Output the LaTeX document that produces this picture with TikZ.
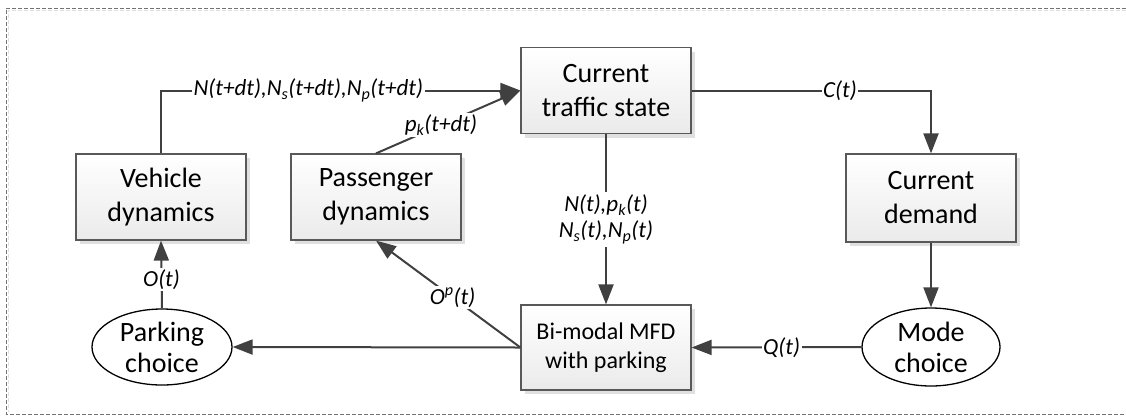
\documentclass[tikz,border=0pt]{standalone}
\usepackage{fontspec}
\setmainfont{Carlito}
\usetikzlibrary{arrows.meta,shapes.geometric,shadows}
\definecolor{linec}{HTML}{404040}
\definecolor{boxedge}{HTML}{595959}
\begin{document}
\begin{tikzpicture}[x=1pt,y=-1pt,
  blk/.style={draw=boxedge, line width=1.2pt, rectangle, minimum width=170pt, minimum height=86pt,
    top color=white, bottom color=black!8,
    drop shadow={shadow xshift=4pt, shadow yshift=-4pt, fill=black!12, opacity=1},
    align=center, font=\fontsize{28}{34}\selectfont, inner sep=0pt},
  ell/.style={draw=black, line width=1.3pt, ellipse, fill=white, inner sep=0pt},
  elltext/.style={font=\fontsize{28}{31}\selectfont, align=center, inner sep=0pt},
  conn/.style={draw=linec, line width=2pt},
  arr/.style={conn, -{Triangle[length=20pt,width=15pt]}},
  lbl/.style={font=\fontsize{23}{26}\selectfont\itshape, fill=white, inner sep=1.5pt, text=black, align=center},
]
\useasboundingbox (0,0) rectangle (1126,416);
% frame
\draw[draw=black!12, line width=0.8pt, dash pattern=on 4pt off 2pt] (1126,10) -- (8,10) -- (8,412);
\draw[draw=black!55, line width=0.8pt, dash pattern=on 4pt off 2pt] (1126,8) -- (6,8) -- (6,414) -- (1126,414);

% nodes
\node[blk] (traffic) at (606,90.5) {Current\\traffic state};
\node[blk] (vehicle) at (161,197) {Vehicle\\dynamics};
\node[blk] (passenger) at (376,197) {Passenger\\dynamics};
\node[blk, minimum height=88pt] (demand) at (931,198) {Current\\demand};
\node[blk, minimum height=85pt, font=\fontsize{24}{29}\selectfont] (mfd) at (606,347.5) {Bi-modal MFD\\with parking};
\node[ell, minimum width=140pt, minimum height=76pt,
  label={[elltext]center:Parking\\choice}] (parking) at (162,347) {};
\node[ell, minimum width=138pt, minimum height=78pt,
  label={[elltext]center:Mode\\choice}] (mode) at (931,347) {};

% connectors
\draw[arr] (vehicle.north) |- (traffic.west)
  node[lbl, pos=0.705] {N(t+dt),N\textsubscript{s}(t+dt),N\textsubscript{p}(t+dt)};
\draw[arr] (passenger.north) -- (traffic.west)
  node[lbl, pos=0.45] {p\textsubscript{k}(t+dt)};
\draw[arr] (traffic.east) -| (demand.north)
  node[lbl, pos=0.31] {C(t)};
\draw[arr] (traffic.south) -- (mfd.north)
  node[lbl, midway, inner sep=3pt] {N(t),p\textsubscript{k}(t)\\N\textsubscript{s}(t),N\textsubscript{p}(t)};
\draw[arr] (demand.south) -- (mode.north);
\draw[arr] (mode.west) -- (mfd.east)
  node[lbl, pos=0.47] {Q(t)};
\draw[arr] (mfd.west) -- (parking.east);
\draw[arr] (mfd.west) -- (passenger.south)
  node[lbl, pos=0.47] {O\textsuperscript{p}(t)};
\draw[arr] (parking.north) -- (vehicle.south)
  node[lbl, pos=0.42] {O(t)};
\end{tikzpicture}
\end{document}
